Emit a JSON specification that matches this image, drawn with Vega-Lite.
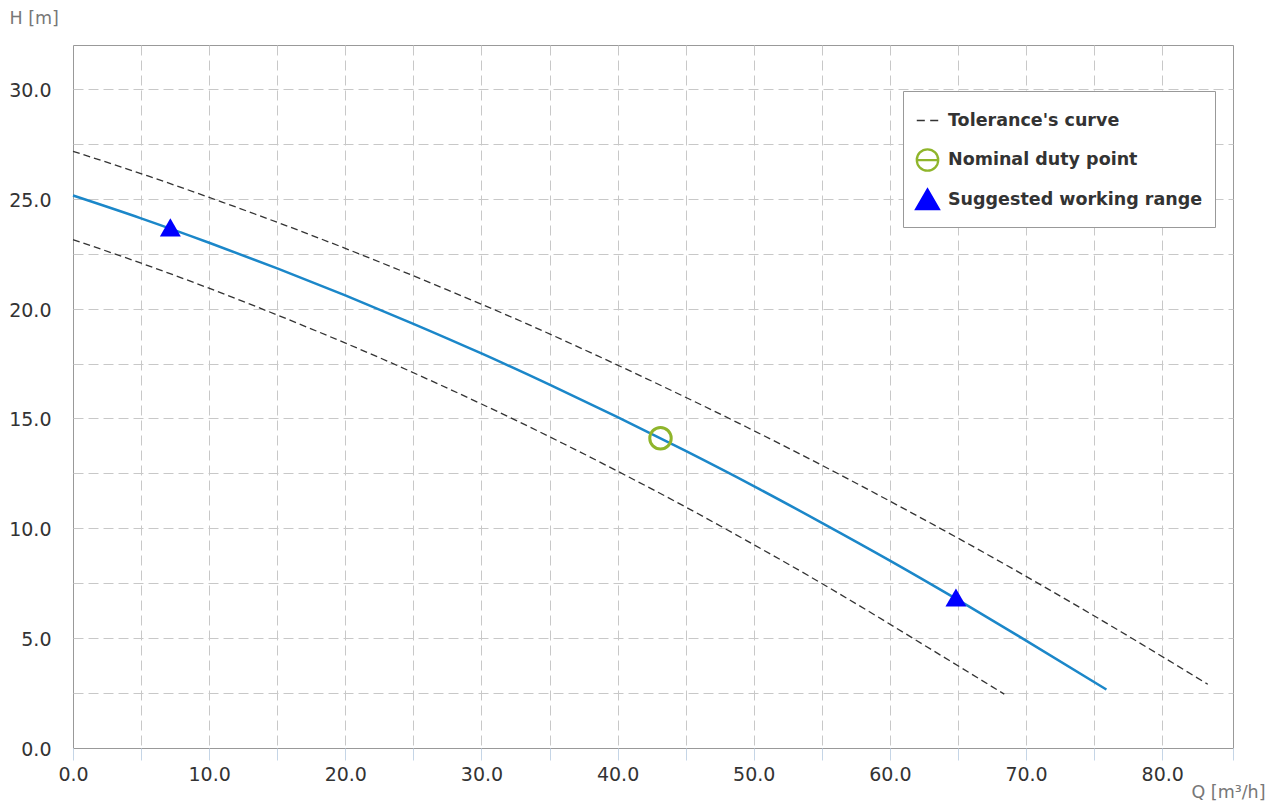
{
  "$schema": "https://vega.github.io/schema/vega-lite/v6.json",
  "width": 1160,
  "height": 703,
  "autosize": {"type": "none"},
  "padding": {"left": 73, "top": 45, "right": 45, "bottom": 59},
  "background": "white",
  "config": {
    "font": "DejaVu Sans",
    "view": {"stroke": "#999999", "strokeWidth": 1},
    "axis": {
      "labelFont": "DejaVu Sans",
      "labelFontSize": 19,
      "labelColor": "#333333",
      "titleFont": "DejaVu Sans",
      "titleFontSize": 17.5,
      "titleFontWeight": "normal",
      "titleColor": "#777777",
      "gridColor": "#c8c8c8",
      "gridDash": [10, 5],
      "gridWidth": 1,
      "domain": false
    }
  },
  "datasets": {
    "curves": [
      {"curve": "main", "Q": 0, "H": 25.15},
      {"curve": "main", "Q": 5, "H": 24.11},
      {"curve": "main", "Q": 10, "H": 23.0},
      {"curve": "main", "Q": 15, "H": 21.83},
      {"curve": "main", "Q": 20, "H": 20.6},
      {"curve": "main", "Q": 25, "H": 19.31},
      {"curve": "main", "Q": 30, "H": 17.96},
      {"curve": "main", "Q": 35, "H": 16.54},
      {"curve": "main", "Q": 40, "H": 15.06},
      {"curve": "main", "Q": 45, "H": 13.52},
      {"curve": "main", "Q": 50, "H": 11.92},
      {"curve": "main", "Q": 55, "H": 10.25},
      {"curve": "main", "Q": 60, "H": 8.53},
      {"curve": "main", "Q": 65, "H": 6.74},
      {"curve": "main", "Q": 70, "H": 4.89},
      {"curve": "main", "Q": 75.9, "H": 2.66},
      {"curve": "upper", "Q": 0, "H": 27.16},
      {"curve": "upper", "Q": 5.5, "H": 26.04},
      {"curve": "upper", "Q": 11, "H": 24.84},
      {"curve": "upper", "Q": 16.5, "H": 23.58},
      {"curve": "upper", "Q": 22, "H": 22.25},
      {"curve": "upper", "Q": 27.5, "H": 20.85},
      {"curve": "upper", "Q": 33, "H": 19.4},
      {"curve": "upper", "Q": 38.5, "H": 17.86},
      {"curve": "upper", "Q": 44, "H": 16.26},
      {"curve": "upper", "Q": 49.5, "H": 14.6},
      {"curve": "upper", "Q": 55, "H": 12.87},
      {"curve": "upper", "Q": 60.5, "H": 11.07},
      {"curve": "upper", "Q": 66, "H": 9.21},
      {"curve": "upper", "Q": 71.5, "H": 7.28},
      {"curve": "upper", "Q": 77, "H": 5.28},
      {"curve": "upper", "Q": 83.35, "H": 2.9},
      {"curve": "lower", "Q": 0, "H": 23.14},
      {"curve": "lower", "Q": 4.5, "H": 22.18},
      {"curve": "lower", "Q": 9, "H": 21.16},
      {"curve": "lower", "Q": 13.5, "H": 20.08},
      {"curve": "lower", "Q": 18, "H": 18.95},
      {"curve": "lower", "Q": 22.5, "H": 17.77},
      {"curve": "lower", "Q": 27, "H": 16.52},
      {"curve": "lower", "Q": 31.5, "H": 15.22},
      {"curve": "lower", "Q": 36, "H": 13.86},
      {"curve": "lower", "Q": 40.5, "H": 12.44},
      {"curve": "lower", "Q": 45, "H": 10.97},
      {"curve": "lower", "Q": 49.5, "H": 9.43},
      {"curve": "lower", "Q": 54, "H": 7.85},
      {"curve": "lower", "Q": 58.5, "H": 6.2},
      {"curve": "lower", "Q": 63, "H": 4.5},
      {"curve": "lower", "Q": 68.4, "H": 2.45}
    ],
    "points": [
      {"series": "Nominal duty point", "Q": 43.15, "H": 14.1},
      {"series": "Suggested working range", "Q": 7.15, "H": 23.7},
      {"series": "Suggested working range", "Q": 64.85, "H": 6.85}
    ]
  },
  "encoding": {
    "x": {
      "field": "Q",
      "type": "quantitative",
      "scale": {"domain": [0, 85.2], "nice": false, "zero": false},
      "axis": {
        "title": "Q [m³/h]",
        "titleAngle": 0,
        "titleAlign": "left",
        "titleBaseline": "middle",
        "titleX": 1118,
        "titleY": 44,
        "values": [0, 5, 10, 15, 20, 25, 30, 35, 40, 45, 50, 55, 60, 65, 70, 75, 80, 85.2],
        "labelExpr": "datum.value % 10 == 0 ? format(datum.value, '.1f') : ''",
        "ticks": true,
        "tickSize": 12,
        "tickColor": "#c5d5e6",
        "labelPadding": 5,
        "labelFlush": false,
        "labelOverlap": false,
        "grid": true,
        "gridOpacity": {"condition": {"test": "datum.value == 0 || datum.value > 84", "value": 0}, "value": 1}
      }
    },
    "y": {
      "field": "H",
      "type": "quantitative",
      "scale": {"domain": [0, 32], "nice": false},
      "axis": {
        "title": "H [m]",
        "titleAngle": 0,
        "titleAlign": "left",
        "titleBaseline": "middle",
        "titleX": -64,
        "titleY": -27,
        "values": [0, 2.5, 5, 7.5, 10, 12.5, 15, 17.5, 20, 22.5, 25, 27.5, 30],
        "labelExpr": "datum.value % 5 == 0 ? format(datum.value, '.1f') : ''",
        "ticks": false,
        "tickSize": 0,
        "labelPadding": 22,
        "labelOverlap": false,
        "labelFlush": false,
        "labelBaseline": "middle",
        "labelOffset": 1.5,
        "grid": true,
        "gridOpacity": {"condition": {"test": "datum.value == 0", "value": 0}, "value": 1}
      }
    }
  },
  "layer": [
    {
      "data": {"name": "curves"},
      "transform": [{"filter": "datum.curve != 'main'"}],
      "mark": {"type": "line", "interpolate": "monotone", "color": "#333333", "strokeWidth": 1.3, "strokeDash": [7, 4]},
      "encoding": {"detail": {"field": "curve", "type": "nominal"}}
    },
    {
      "data": {"name": "curves"},
      "transform": [{"filter": "datum.curve == 'main'"}],
      "mark": {"type": "line", "interpolate": "monotone", "color": "#1b87c9", "strokeWidth": 2.5}
    },
    {
      "data": {"name": "points"},
      "mark": {"type": "point", "opacity": 0, "size": 460},
      "encoding": {
        "shape": {
          "field": "series",
          "type": "nominal",
          "scale": {
            "domain": ["Tolerance's curve", "Nominal duty point", "Suggested working range"],
            "range": ["M-1,0L-0.25,0M0.25,0L1,0", "M-1,0A1,1,0,1,1,1,0A1,1,0,1,1,-1,0ZM-1,0L1,0", "triangle-up"]
          },
          "legend": {
            "title": " ",
            "titleFontSize": 6,
            "titlePadding": 0,
            "orient": "none",
            "legendX": 830,
            "legendY": 46,
            "padding": 12,
            "rowPadding": 7,
            "gridAlign": "all",
            "symbolSize": 460,
            "symbolOpacity": 1,
            "labelFont": "DejaVu Sans",
            "labelFontSize": 17.5,
            "labelFontWeight": "bold",
            "labelColor": "#333333",
            "labelOffset": 8,
            "labelLimit": 400,
            "fillColor": "white",
            "strokeColor": "#999999",
            "cornerRadius": 0
          }
        },
        "stroke": {
          "field": "series",
          "type": "nominal",
          "scale": {
            "domain": ["Tolerance's curve", "Nominal duty point", "Suggested working range"],
            "range": ["#333333", "#8fb52b", "#0000ff"]
          }
        },
        "fill": {
          "field": "series",
          "type": "nominal",
          "scale": {
            "domain": ["Tolerance's curve", "Nominal duty point", "Suggested working range"],
            "range": ["transparent", "transparent", "#0000ff"]
          }
        },
        "strokeWidth": {
          "field": "series",
          "type": "nominal",
          "scale": {
            "domain": ["Tolerance's curve", "Nominal duty point", "Suggested working range"],
            "range": [1.5, 3, 1]
          }
        }
      }
    },
    {
      "data": {"name": "points"},
      "transform": [{"filter": "datum.series == 'Nominal duty point'"}],
      "mark": {"type": "point", "shape": "circle", "size": 460, "filled": false, "stroke": "#8fb52b", "strokeWidth": 3, "opacity": 1}
    },
    {
      "data": {"name": "points"},
      "transform": [{"filter": "datum.series == 'Suggested working range'"}],
      "mark": {"type": "point", "shape": "triangle-up", "size": 440, "filled": true, "color": "#0000ff", "opacity": 1}
    }
  ]
}
